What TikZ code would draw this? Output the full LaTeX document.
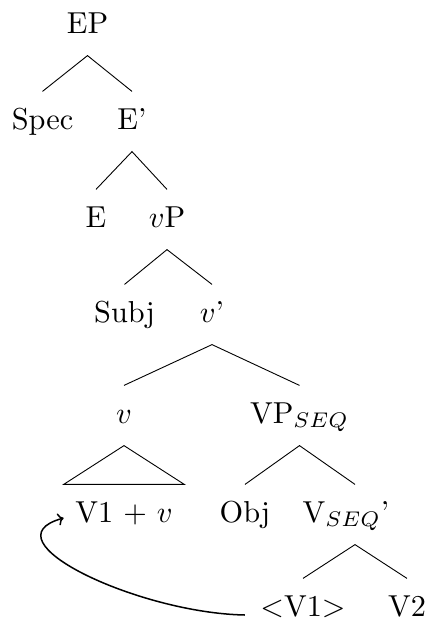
\documentclass[tikz,border=0pt]{standalone}
\usetikzlibrary{arrows.meta}
\tikzset{
  lab/.style={anchor=base, scale=3.03, transform shape, inner xsep=3.3pt, inner ysep=4.95pt, text height=7.26pt, text depth=2.31pt, font=\fontsize{10}{12}\selectfont},
  br/.style={line width=0.9pt},
  mv/.style={line width=1.5pt, -{To[scale=1.2]}}
}
\begin{document}
\begin{tikzpicture}[x=1pt,y=-1pt]
\useasboundingbox (0,0) rectangle (428,622);
\node[lab] (EP) at (87.5,33) {EP};
\node[lab] (Spec) at (42.5,129) {Spec};
\node[lab] (Ep) at (132,129) {E'};
\node[lab] (E) at (96,227) {E};
\node[lab] (vP) at (167,227) {$v$P};
\node[lab] (Subj) at (124.5,322) {Subj};
\node[lab] (vb) at (212,322) {$v$'};
\node[lab] (v) at (124,423) {$v$};
\node[lab] (VP) at (299.5,423) {VP$_{SEQ}$};
\node[lab] (V1v) at (124,522) {V1 + $v$};
\node[lab] (Obj) at (245,522) {Obj};
\node[lab] (Vs) at (346,522) {V$_{SEQ}$'};
\node[lab] (T) at (303,616) {$<$V1$>$};
\node[lab] (V2) at (407,616) {V2};
\draw[br] (Spec.north) -- (EP.south) -- (Ep.north);
\draw[br] (E.north) -- (Ep.south) -- (vP.north);
\draw[br] (Subj.north) -- (vP.south) -- (vb.north);
\draw[br] (v.north) -- (vb.south) -- (VP.north);
\draw[br] (Obj.north) -- (VP.south) -- ([xshift=9pt]Vs.north);
\draw[br] (T.north) -- ([xshift=9pt]Vs.south) -- (V2.north);
\draw[br] (v.south) -- ([xshift=-1pt]V1v.north west) -- ([xshift=1pt]V1v.north east) -- cycle;
\coordinate (s) at ([xshift=-5pt,yshift=1pt]T.base west);
\coordinate (e) at ([xshift=-1pt,yshift=4pt]V1v.base west);
\draw[mv] (s) .. controls +(-107,-2) and +(-80,22) .. (e);
\end{tikzpicture}
\end{document}
